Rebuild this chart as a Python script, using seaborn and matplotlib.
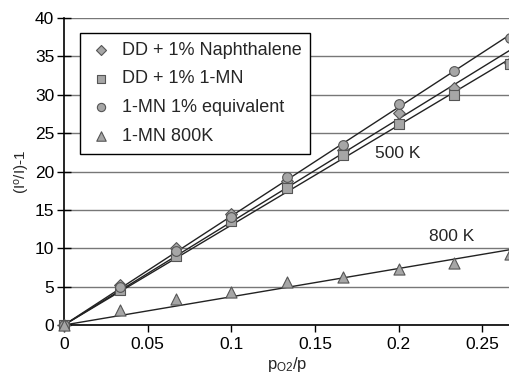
import numpy as np
import pandas as pd
import matplotlib
matplotlib.use("Agg")
import matplotlib.pyplot as plt
import seaborn as sns

x = [0, 1/30, 2/30, 3/30, 4/30, 5/30, 6/30, 7/30, 8/30]
naph = [0, 5.2, 10.0, 14.5, 18.7, 22.8, 27.6, 30.9, 34.2]
mn = [0, 4.6, 9.0, 13.5, 17.8, 22.2, 26.2, 30.0, 34.0]
equiv = [0, 5.0, 9.7, 14.1, 19.3, 23.4, 28.8, 33.1, 37.4]
mn800 = [0, 1.9, 3.4, 4.35, 5.65, 6.2, 7.3, 8.1, 9.3]

labels = ["DD + 1% Naphthalene", "DD + 1% 1-MN", "1-MN 1% equivalent", "1-MN 800K"]
markers = ["D", "s", "o", "^"]
msizes = [6, 7, 7, 8]
series = [naph, mn, equiv, mn800]
xticks = [0, 0.05, 0.1, 0.15, 0.2, 0.25]
yticks = [0, 5, 10, 15, 20, 25, 30, 35, 40]

sns.set_theme(style="white")
plt.rcParams['font.family'] = ['Liberation Sans', 'DejaVu Sans']
plt.rcParams['mathtext.fontset'] = 'custom'
plt.rcParams['mathtext.rm'] = 'Liberation Sans'
plt.rcParams['mathtext.it'] = 'Liberation Sans'

fig = plt.figure(figsize=(5.10, 3.83), dpi=100)
ax = fig.add_axes([0.1255, 0.1514, 0.8745, 0.8016])

rows = []
for lab, ys in zip(labels, series):
    for xi, yi in zip(x, ys):
        rows.append({"x": xi, "y": yi, "series": lab})
df = pd.DataFrame(rows)

xa = np.array(x)
xline = np.array([0, x[-1]])
for lab, ys in zip(labels, series):
    ya = np.array(ys)
    slope = np.sum(xa * ya) / np.sum(xa * xa)
    ax.plot(xline, slope * xline, color="#222222", lw=1.0, zorder=2)

for lab, mk, ms in zip(labels, markers, msizes):
    sub = df[df.series == lab]
    sns.scatterplot(data=sub, x="x", y="y", marker=mk, s=ms**2, color="#a6a6a6",
                    edgecolor="#555555", linewidth=0.8, ax=ax, label=lab, zorder=3,
                    clip_on=False)

ax.set_xlim(0, 8/30)
ax.set_ylim(0, 40)
ax.set_xticks(xticks)
ax.set_xticklabels(["0", "0.05", "0.1", "0.15", "0.2", "0.25"])
ax.set_yticks(yticks)
ax.yaxis.grid(True, color="#777777", lw=1.0)
ax.xaxis.grid(False)
for s in ["top", "right"]:
    ax.spines[s].set_visible(False)
for s in ["left", "bottom"]:
    ax.spines[s].set_color("black")
    ax.spines[s].set_linewidth(1.2)
ax.tick_params(axis="y", direction="inout", length=10, width=1.0, labelsize=12.5, colors="black", left=True, pad=2)
ax.tick_params(axis="x", direction="out", length=5, width=1.0, labelsize=12.5, colors="black", bottom=True)
ax.set_xlabel("p$_{\\mathrm{O2}}$/p", fontsize=12, labelpad=2)
ax.set_ylabel("(I$^{\\mathrm{o}}$/I)-1", fontsize=11, labelpad=2)

ax.text(0.186, 22.4, "500 K", fontsize=12.5, va="center", ha="left")
ax.text(0.218, 11.5, "800 K", fontsize=12.5, va="center", ha="left")

leg = ax.legend(loc="upper left", bbox_to_anchor=(0.016, 0.982), fontsize=13,
                frameon=True, fancybox=False, edgecolor="black", framealpha=1,
                labelspacing=0.65, handletextpad=0.5, borderpad=0.5, handlelength=1.3,
                markerscale=0.85)
leg.get_frame().set_linewidth(1.0)

fig.savefig("out.png", dpi=100)
